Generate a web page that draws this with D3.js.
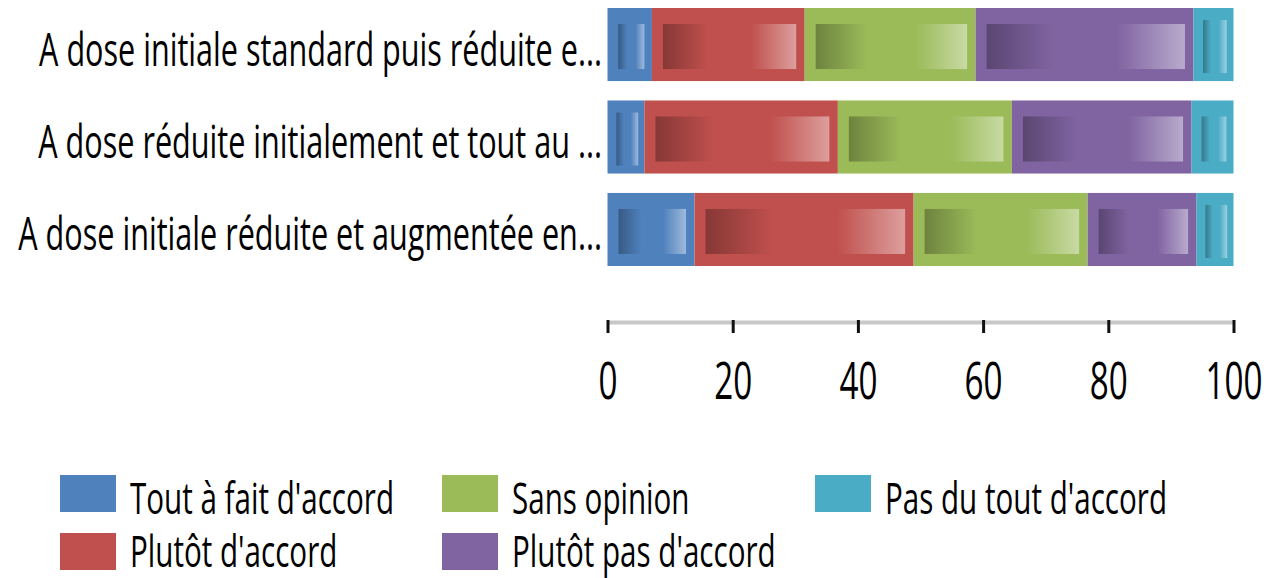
<!DOCTYPE html>
<html>
<head>
<meta charset="utf-8">
<script src="https://cdn.jsdelivr.net/npm/d3@7"></script>
<style>
  body { margin: 0; background: #fff; }
  text { font-family: "Open Sans", sans-serif; fill: #000; }
</style>
</head>
<body>
<div id="chart"></div>
<script>
const categories = [
  "A dose initiale standard puis réduite e...",
  "A dose réduite initialement et tout au ...",
  "A dose initiale réduite et augmentée en..."
];
const seriesNames = [
  "Tout à fait d'accord",
  "Plutôt d'accord",
  "Sans opinion",
  "Plutôt pas d'accord",
  "Pas du tout d'accord"
];
const toutAFait = [7.1, 5.9, 13.9];
const plutot = [24.4, 30.9, 35.0];
const sansOpinion = [27.3, 27.8, 27.8];
const plutotPas = [34.8, 28.7, 17.4];
const pasDuTout = [6.4, 6.7, 5.9];
const seriesColors = ["#4F81BD", "#C0504D", "#9BBB59", "#8064A2", "#4BACC6"];
const tickValues = [0, 20, 40, 60, 80, 100];

const WIDTH = 1270, HEIGHT = 578;
const seriesValues = [toutAFait, plutot, sansOpinion, plutotPas, pasDuTout];

const rows = categories.map((c, i) => {
  const r = { cat: c };
  seriesNames.forEach((s, j) => { r[s] = seriesValues[j][i]; });
  return r;
});

const svg = d3.select("#chart").append("svg")
  .attr("width", WIDTH)
  .attr("height", HEIGHT);

const x = d3.scaleLinear().domain([0, 100]).range([607.5, 1233.5]);
const y = d3.scaleBand().domain(categories).range([8, 266]).paddingInner(0.21).paddingOuter(0);
const color = d3.scaleOrdinal().domain(seriesNames).range(seriesColors);

// gradients for the inner "bevel" rectangles
const defs = svg.append("defs");
seriesNames.forEach((s, i) => {
  const base = seriesColors[i];
  const g = defs.append("linearGradient").attr("id", "grad" + i)
    .attr("x1", "0%").attr("x2", "100%").attr("y1", "0%").attr("y2", "0%");
  g.append("stop").attr("offset", "0%").attr("stop-color", d3.interpolateRgb(base, "#000")(0.3));
  g.append("stop").attr("offset", "34%").attr("stop-color", base);
  g.append("stop").attr("offset", "66%").attr("stop-color", base);
  g.append("stop").attr("offset", "100%").attr("stop-color", d3.interpolateRgb(base, "#fff")(0.45));
});

const stacked = d3.stack().keys(seriesNames)(rows);

const layers = svg.append("g")
  .selectAll("g")
  .data(stacked)
  .join("g")
  .attr("fill", d => color(d.key));

layers.selectAll("rect.seg")
  .data(d => d)
  .join("rect")
  .attr("class", "seg")
  .attr("x", d => x(d[0]))
  .attr("y", d => y(d.data.cat))
  .attr("width", d => x(d[1]) - x(d[0]))
  .attr("height", y.bandwidth());

layers.each(function (layer, i) {
  d3.select(this).selectAll("rect.inner")
    .data(layer)
    .join("rect")
    .attr("class", "inner")
    .attr("fill", `url(#grad${i})`)
    .each(function (d) {
      const w = x(d[1]) - x(d[0]);
      const l = Math.min(11, w * 0.24), r = Math.min(8.5, w * 0.17);
      const top = w < 41 ? 12 : 16, bot = w < 41 ? 8 : 12;
      d3.select(this)
        .attr("x", x(d[0]) + l)
        .attr("y", y(d.data.cat) + top)
        .attr("width", w - l - r)
        .attr("height", y.bandwidth() - top - bot);
    });
});

// category labels
const labels = svg.append("g")
  .selectAll("text")
  .data(categories)
  .join("text")
  .attr("text-anchor", "end")
  .attr("font-size", 45.5)
  .text(d => d);

// squeeze the text horizontally like the reference
const sx = 563 / labels.node().getComputedTextLength();
labels.attr("transform", d => `translate(602, ${y(d) + y.bandwidth() / 2 + 21}) scale(${sx}, 1)`);

// x axis
const axisG = svg.append("g")
  .attr("transform", "translate(0, 322)")
  .call(d3.axisBottom(x).tickValues(tickValues).tickSize(11).tickSizeOuter(0));
axisG.select(".domain").attr("stroke", "#c8c8c8").attr("stroke-width", 4);
axisG.selectAll(".tick line").attr("y1", -2).attr("stroke", "#111").attr("stroke-width", 3);
axisG.selectAll(".tick text")
  .attr("y", 77)
  .attr("dy", 0)
  .attr("font-size", 52)
  .attr("font-family", "Open Sans, sans-serif")
  .attr("fill", "#000")
  .attr("transform", `scale(${sx * 0.95}, 1)`);

// legend
const legendPos = [[60, 475], [60, 533], [442, 475], [442, 533], [815, 475]];
const legend = svg.append("g")
  .selectAll("g")
  .data(seriesNames)
  .join("g")
  .attr("transform", (d, i) => `translate(${legendPos[i][0]}, ${legendPos[i][1]})`);
legend.append("rect")
  .attr("width", 56)
  .attr("height", 37)
  .attr("fill", d => color(d));
legend.append("text")
  .attr("font-size", 44)
  .attr("transform", (d, i) => `translate(70, ${i % 2 ? 34 : 39}) scale(${sx}, 1)`)
  .text(d => d);
</script>
</body>
</html>
